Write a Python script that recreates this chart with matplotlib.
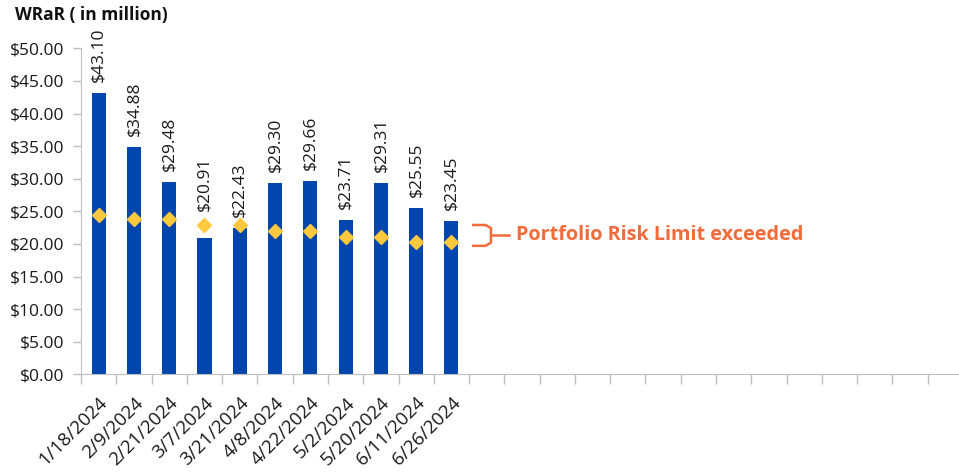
import matplotlib.pyplot as plt
from matplotlib.ticker import FixedLocator, NullFormatter

plt.rcParams['font.family'] = ['Open Sans', 'DejaVu Sans']

dates = ['1/18/2024', '2/9/2024', '2/21/2024', '3/7/2024', '3/21/2024', '4/8/2024',
         '4/22/2024', '5/2/2024', '5/20/2024', '6/11/2024', '6/26/2024']
wrar = [43.10, 34.88, 29.48, 20.91, 22.43, 29.30, 29.66, 23.71, 29.31, 25.55, 23.45]
limit = [24.45, 23.8, 23.8, 22.9, 22.9, 22.05, 22.05, 21.1, 21.1, 20.35, 20.35]
n_slots = 25  # axis has empty category slots after the data

bar_col = '#0046AD'
dia_col = '#FFC83D'
note_col = '#F26B3A'

fig = plt.figure(figsize=(9.59, 4.75), dpi=100)
ax = fig.add_axes([81 / 959, 1 - 374.3 / 475, (963 - 81) / 959, (374.3 - 48.3) / 475])

x = list(range(len(dates)))
ax.bar(x, wrar, width=0.4, color=bar_col, zorder=2)
ax.plot(x, limit, linestyle='none', marker='D', markersize=7.5,
        color=dia_col, markeredgecolor=dia_col, zorder=3)

for xi, v, lim in zip(x, wrar, limit):
    base = lim + 0.5 if lim - v > 1 else v
    ax.annotate(f'${v:.2f}', (xi, base), xytext=(0, 8), textcoords='offset points',
                rotation=90, ha='center', va='bottom', fontsize=12.5, color='#1a1a1a')

ax.set_xlim(-0.5, n_slots - 0.5)
ax.set_ylim(0, 50)

ax.xaxis.set_major_locator(FixedLocator([i - 0.5 for i in range(n_slots + 1)]))
ax.xaxis.set_major_formatter(NullFormatter())
ax.xaxis.set_minor_locator(FixedLocator(x))
ax.set_xticklabels(dates, minor=True, rotation=45, ha='right', rotation_mode='anchor',
                   fontsize=13.5, color='#1a1a1a')
ax.tick_params(axis='x', which='major', length=7, color='#BFBFBF', width=1)
ax.tick_params(axis='x', which='minor', length=0, pad=14)

ax.set_yticks(range(0, 51, 5))
ax.set_yticklabels([f'${t:.2f}' for t in range(0, 51, 5)], fontsize=12.5, color='#1a1a1a')
ax.tick_params(axis='y', length=6, color='#BFBFBF', width=1, pad=6)

for side in ['top', 'right']:
    ax.spines[side].set_visible(False)
for side in ['left', 'bottom']:
    ax.spines[side].set_color('#BFBFBF')

fig.text(15 / 959, 1 - 15 / 475, 'WRaR ( in million)', fontsize=12.5, fontweight='bold',
         ha='left', va='center', color='#111111')

# bracket + note next to the last bars
bx0, bx1, bx2 = 10.62, 11.12, 11.63
yt, ym, yb = 22.9, 21.3, 19.7
ax.plot([bx0, bx1 - 0.15, bx1, bx1, bx1 - 0.15, bx0],
        [yt, yt, yt - 0.5, yb + 0.5, yb, yb], color=note_col, lw=1.8, clip_on=False)
ax.plot([bx1, bx2], [ym, ym], color=note_col, lw=1.8, clip_on=False)
ax.text(bx2 + 0.2, ym, 'Portfolio Risk Limit exceeded', color=note_col, fontsize=14.3,
        fontweight='bold', ha='left', va='center')

fig.savefig('out.png', dpi=100)
